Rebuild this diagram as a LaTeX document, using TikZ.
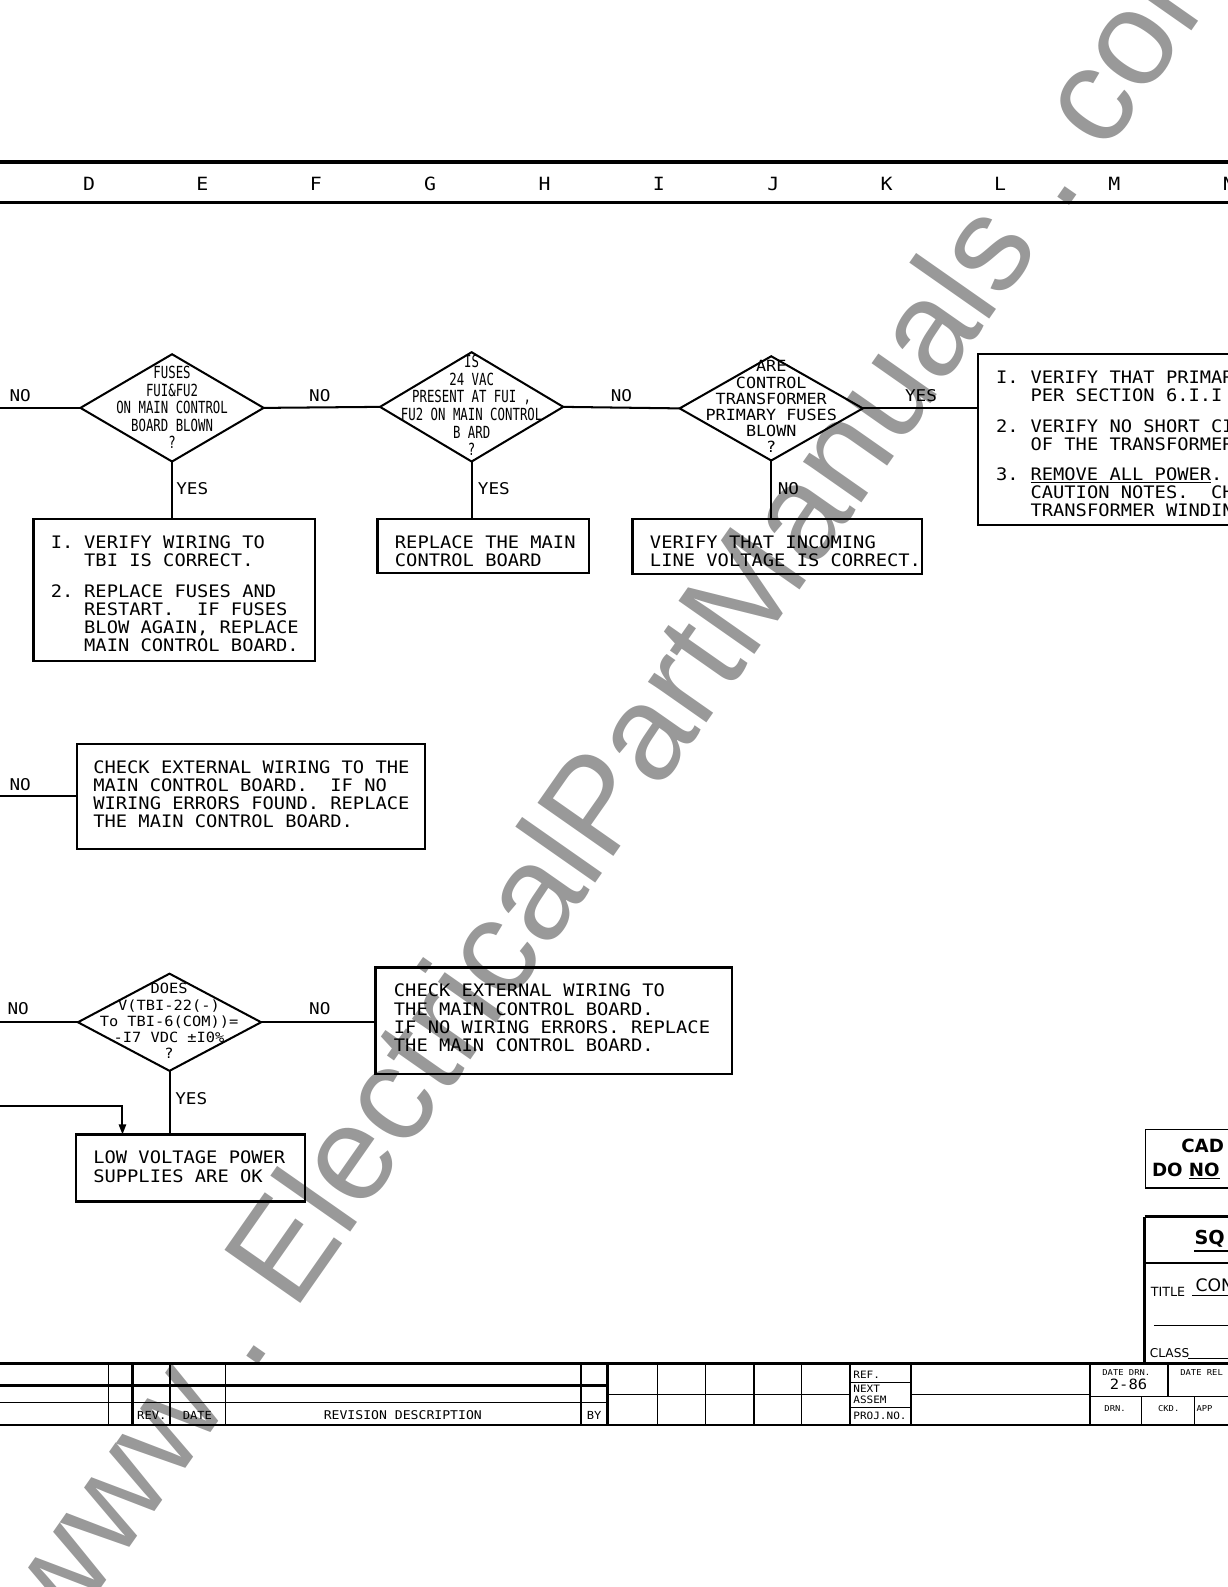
\documentclass[tikz,border=0pt]{standalone}
\usepackage{fontspec}
\setmainfont{DejaVu Sans}
\newfontfamily\cadf[FakeStretch=1.09]{DejaVu Sans Mono}
\newfontfamily\cadn[FakeStretch=0.74]{DejaVu Sans Mono}
\newfontfamily\wmf{Liberation Sans}
\usetikzlibrary{shapes.geometric,arrows.meta}
\newcommand\fsz[2]{\fontsize{#1}{#2}\selectfont}
\newcommand\nm[1]{\makebox[33pt][l]{#1}}
\newcommand\nmb[1]{\makebox[34pt][l]{#1}}
\frenchspacing
\begin{document}
\begin{tikzpicture}[x=1pt,y=-1pt,
  conn/.style={line width=2pt},
  boxn/.style={draw,line width=2.2pt,rectangle,anchor=north west,inner sep=0pt,outer sep=0pt},
  dia/.style={draw,diamond,line width=2pt,inner sep=0pt,outer sep=0pt},
  tb/.style={inner sep=0pt,anchor=base west,font=\cadf\fsz{17}{17.5}},
  lb/.style={inner sep=0pt,font=\cadf\fsz{16}{16}},
  hd/.style={inner sep=0pt,font=\cadf\fsz{18}{18}},
  sm/.style={inner sep=0pt,font=\cadf\fsz{#1}{#1}},
  smw/.style={inner sep=0pt,anchor=west,font=\cadf\fsz{#1}{#1}},
  thin/.style={line width=1.2pt},
  thick/.style={line width=2.5pt}
]
\useasboundingbox (0,0) rectangle (1213,1568);

% watermark
\node[text=black!40, font=\wmf\fsz{133}{133}, rotate=55, inner sep=0pt] (wm) at (610,758) {www . ElectricalPartManuals . com};

% header band
\draw[line width=3.5pt] (0,160) -- (1213,160);
\draw[line width=3.5pt] (0,200) -- (1213,200);
\foreach \l/\x in {D/88,E/200,F/312,G/425,H/538,I/651,J/764,K/876,L/988,M/1101,N/1214}
  \node[hd] (h\l) at (\x,182) {\l};

% ---------- row 1 ----------
\coordinate (r1) at (0,403);
\node[dia,minimum width=181,minimum height=106] (d1) at (170,403) {};
\node[inner sep=0pt,anchor=base,font=\cadn\fsz{16.5}{17}] (d1t) at (170,374)
  {\begin{tabular}[t]{@{}c@{}}FUSES\\FUI\&FU2\\ON MAIN CONTROL\\BOARD BLOWN\\?\end{tabular}};
\node[dia,minimum width=181,minimum height=108] (d2) at (466,402) {};
\node[inner sep=0pt,anchor=base,font=\cadn\fsz{16.5}{17.4}] (d2t) at (466,363)
  {\begin{tabular}[t]{@{}c@{}}IS\\24 VAC\\PRESENT AT FUI ,\\FU2 ON MAIN CONTROL\\B ARD\\?\end{tabular}};
\node[dia,minimum width=181,minimum height=103] (d3) at (762,403.5) {};
\node[inner sep=0pt,anchor=base,font=\cadf\fsz{15.2}{15.6}] (d3t) at (762,367.5)
  {\begin{tabular}[t]{@{}c@{}}ARE\\CONTROL\\TRANSFORMER\\PRIMARY FUSES\\BLOWN\\?\end{tabular}};

\node[boxn,minimum width=278,minimum height=140] (b1) at (33,513) {};
\node[tb] (b1t) at (50,542) {\begin{tabular}[t]{@{}l@{}l@{}}
  \nm{I.}&VERIFY WIRING TO\\ &TBI IS CORRECT.\\[12.5pt]
  \nm{2.}&REPLACE FUSES AND\\ &RESTART.~ IF FUSES\\ &BLOW AGAIN, REPLACE\\ &MAIN CONTROL BOARD.\end{tabular}};
\node[boxn,minimum width=209,minimum height=53] (b2) at (373,513) {};
\node[tb] (b2t) at (390,542) {\begin{tabular}[t]{@{}l@{}}REPLACE THE MAIN\\CONTROL BOARD\end{tabular}};
\node[boxn,minimum width=286,minimum height=54] (b3) at (625,513) {};
\node[tb] (b3t) at (642,542) {\begin{tabular}[t]{@{}l@{}}VERIFY THAT INCOMING\\LINE VOLTAGE IS CORRECT.\end{tabular}};
\node[boxn,minimum width=290,minimum height=169] (b4) at (966,350) {};
\node[tb] (b4t) at (984,379) {\begin{tabular}[t]{@{}l@{}l@{}}
  \nmb{I.}&VERIFY THAT PRIMAR\\ &PER SECTION 6.I.I\\[12.5pt]
  \nmb{2.}&VERIFY NO SHORT CI\\ &OF THE TRANSFORMER\\[12pt]
  \nmb{3.}&\underline{REMOVE ALL POWER}.\\ &CAUTION NOTES.~ CH\\ &TRANSFORMER WINDIN\end{tabular}};

\draw[conn] (r1) -- (d1.west);
\draw[conn] (d1.east) -- (d2.west);
\draw[conn] (d2.east) -- (d3.west);
\draw[conn] (d3.east) -- (d3.east -| b4.west);
\draw[conn] (d1.south) -- (d1.south |- b1.north);
\draw[conn] (d2.south) -- (d2.south |- b2.north);
\draw[conn] (d3.south) -- (d3.south |- b3.north);
\node[lb] (l1) at (20,391) {NO};
\node[lb] (l2) at (316,391) {NO};
\node[lb] (l3) at (614,391) {NO};
\node[lb] (l4) at (910,391) {YES};
\node[lb] (l5) at (190,483) {YES};
\node[lb] (l6) at (488,483) {YES};
\node[lb] (l7) at (779,483) {NO};

% ---------- row 2 ----------
\coordinate (r2) at (0,786);
\node[boxn,minimum width=344,minimum height=104] (b5) at (76,735) {};
\node[tb] (b5t) at (92,764) {\begin{tabular}[t]{@{}l@{}}CHECK EXTERNAL WIRING TO THE\\MAIN CONTROL BOARD.~ IF NO\\WIRING ERRORS FOUND. REPLACE\\THE MAIN CONTROL BOARD.\end{tabular}};
\draw[conn] (r2) -- (r2 -| b5.west);
\node[lb] (l8) at (20,775) {NO};

% ---------- row 3 ----------
\coordinate (r3) at (0,1010);
\node[dia,minimum width=181,minimum height=96] (d4) at (167.5,1010) {};
\node[inner sep=0pt,anchor=base,font=\cadf\fsz{13.9}{16}] (d4t) at (167,982)
  {\begin{tabular}[t]{@{}c@{}}DOES\\V(TBI-22(-)\\To TBI-6(COM))=\\-I7 VDC ±I0\%\\?\end{tabular}};
\node[boxn,minimum width=352,minimum height=105] (b6) at (371,956) {};
\node[tb] (b6t) at (389,985) {\begin{tabular}[t]{@{}l@{}}CHECK EXTERNAL WIRING TO\\THE MAIN CONTROL BOARD.\\IF NO WIRING ERRORS. REPLACE\\THE MAIN CONTROL BOARD.\end{tabular}};
\node[boxn,minimum width=226,minimum height=66] (b7) at (75,1121) {};
\node[tb] (b7t) at (92,1150) {\begin{tabular}[t]{@{}l@{}}LOW VOLTAGE POWER\\SUPPLIES ARE OK\end{tabular}};
\coordinate (r4) at (0,1093);
\draw[conn] (r3) -- (d4.west);
\draw[conn] (d4.east) -- (d4.east -| b6.west);
\draw[conn] (d4.south) -- (d4.south |- b7.north);
\draw[conn,-{Triangle[length=10pt,width=7pt]}] (r4) -| ([xshift=46pt]b7.north west);
\node[lb] (l9) at (18,997) {NO};
\node[lb] (l10) at (316,997) {NO};
\node[lb] (l11) at (189,1085) {YES};

% ---------- CAD note ----------
\node[draw,line width=1.5pt,anchor=north west,minimum width=120,minimum height=58,inner sep=0pt] (cadbox) at (1131,1115) {};
\node[font=\fsz{18}{18}\bfseries,anchor=west,inner sep=0pt] (cad) at (1167,1132) {CAD};
\node[font=\fsz{18}{18}\bfseries,anchor=west,inner sep=0pt] (dono) at (1138,1157) {DO \underline{NO}};

% ---------- title block ----------
\draw[line width=3pt] (1131,1202) -- (1131,1347);
\draw[thick] (1131,1202) -- (1230,1202);
\draw[line width=1.5pt] (1131,1248) -- (1230,1248);
\node[font=\fsz{19}{19}\bfseries,anchor=west,inner sep=0pt] (sq) at (1180,1224) {SQ};
\draw[line width=2pt] (1180,1236) -- (1230,1236);
\node[font=\fsz{12.5}{12.5},anchor=west,inner sep=0pt] (ttl) at (1137,1276) {TITLE};
\node[font=\fsz{17}{17},anchor=west,inner sep=0pt] (con) at (1181,1270) {CON};
\draw[line width=1pt] (1178,1280) -- (1230,1280);
\draw[line width=1pt] (1140,1310) -- (1230,1310);
\node[font=\fsz{12}{12},anchor=west,inner sep=0pt] (cls) at (1136,1337) {CLASS};
\draw[line width=1pt] (1174,1342) -- (1230,1342);

% ---------- bottom strip ----------
\draw[thick] (0,1347) -- (1230,1347);
\draw[thick] (0,1408) -- (1230,1408);
\draw[thick] (0,1369) -- (600,1369);
\draw[thin] (0,1386) -- (600,1386);
\foreach \x in {107,168,223,574,650,697,745,792,900} \draw[thin] (\x,1347) -- (\x,1408);
\foreach \x in {131,600,840,1077} \draw[thick] (\x,1347) -- (\x,1408);
\draw[line width=1.5pt] (600,1378) -- (840,1378);
\draw[thin] (840,1366) -- (900,1366);
\draw[thin] (840,1391) -- (900,1391);
\draw[thin] (900,1378) -- (1077,1378);
\draw[thin] (1077,1380) -- (1230,1380);
\draw[thin] (1154,1347) -- (1154,1380);
\draw[thin] (1128,1380) -- (1128,1408);
\draw[thin] (1180,1380) -- (1180,1408);

\node[sm=11] (trev) at (150,1398) {REV.};
\node[sm=11] (tdate) at (195,1398) {DATE};
\node[sm=11.9] (tdesc) at (398,1398) {REVISION DESCRIPTION};
\node[sm=11] (tby) at (587,1398) {BY};
\node[smw=10] (tref) at (843,1358) {REF.};
\node[smw=10] (tnext) at (843,1372) {NEXT};
\node[smw=10] (tasm) at (843,1383) {ASSEM};
\node[smw=10] (tproj) at (843,1399) {PROJ.NO.};
\node[smw=8] (tddrn) at (1089,1356) {DATE DRN.};
\node[sm=14] (tdt) at (1115,1368) {2-86};
\node[smw=8] (tdrel) at (1166,1356) {DATE REL};
\node[smw=8] (tdrn) at (1091,1392) {DRN.};
\node[smw=8] (tckd) at (1144,1392) {CKD.};
\node[smw=8] (tapp) at (1182,1392) {APP};
\end{tikzpicture}
\end{document}
